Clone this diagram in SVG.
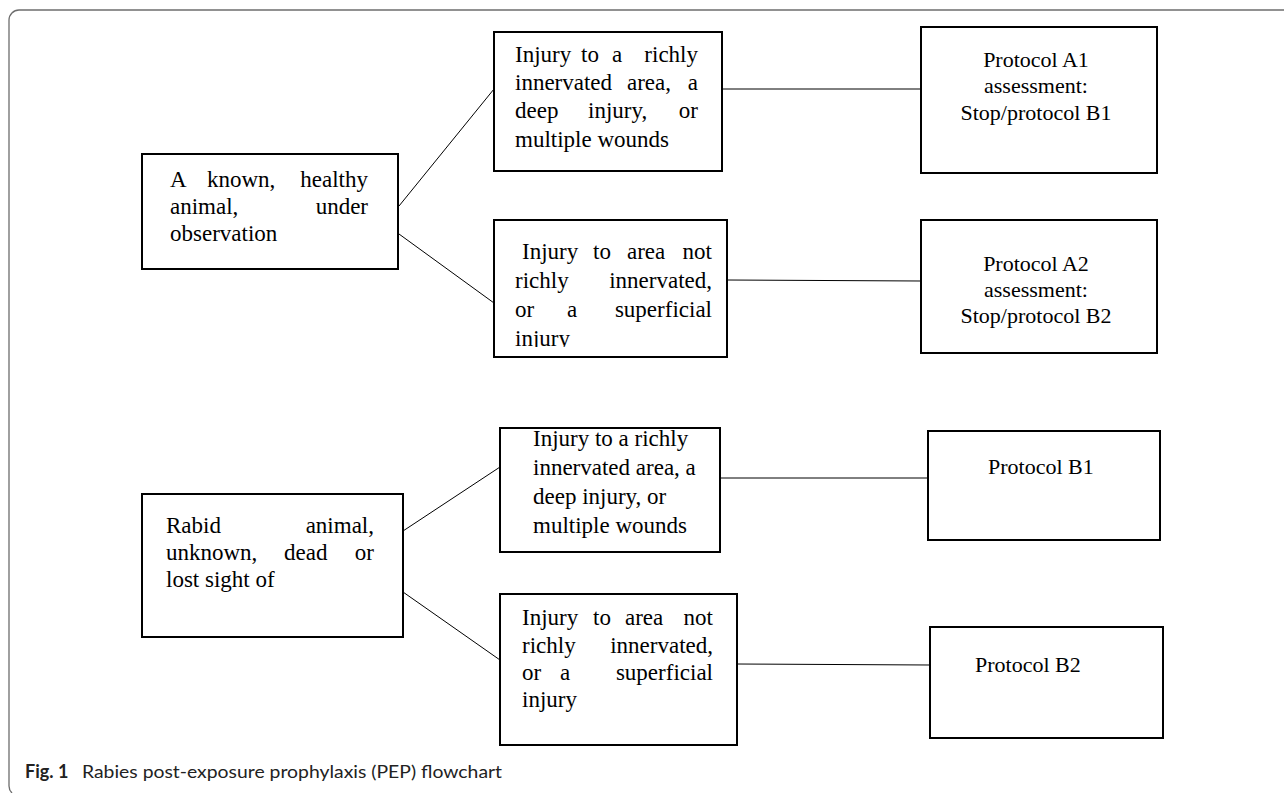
<svg xmlns="http://www.w3.org/2000/svg" width="1284" height="793" viewBox="0 0 1284 793">
<style>
.box{fill:#fff;stroke:#000;stroke-width:2}
.t{font-family:"Liberation Serif","Times New Roman",serif;font-size:23px;fill:#000}
.p{font-family:"Liberation Serif","Times New Roman",serif;font-size:22px;fill:#000}
.e{text-anchor:end}
.m{text-anchor:middle}
.c line{stroke:#000;stroke-width:1}
.cap{font-family:Lato,"Open Sans","Liberation Sans",sans-serif;font-size:18px;fill:#222}
</style>
<defs>
<clipPath id="clip3"><rect x="494" y="220" width="233" height="127"/></clipPath>
</defs>
<rect width="1284" height="793" fill="#fff"/>
<path d="M 9 786 V 20 A 10 10 0 0 1 19 10 H 1284" fill="none" stroke="#6d6d6d" stroke-width="1.3"/>
<path d="M 9 786 Q 9 790 12 793" fill="none" stroke="#6d6d6d" stroke-width="1.3"/>
<g class="c" id="connectors">
<line x1="399" y1="206" x2="494" y2="89"/>
<line x1="399" y1="234" x2="494" y2="303"/>
<line x1="722" y1="89" x2="921" y2="89"/>
<line x1="727" y1="280" x2="921" y2="281"/>
<line x1="403" y1="531" x2="500" y2="467"/>
<line x1="403" y1="592" x2="500" y2="660"/>
<line x1="720" y1="478" x2="928" y2="478"/>
<line x1="737" y1="664" x2="930" y2="665"/>
</g>
<g id="n1">
<rect class="box" x="142" y="154" width="256" height="115"/>
<text class="t" x="170" y="187">A</text><text class="t" x="207" y="187">known,</text><text class="t e" x="368" y="187">healthy</text>
<text class="t" x="170" y="214">animal,</text><text class="t e" x="368" y="214">under</text>
<text class="t" x="170" y="241">observation</text>
</g>
<g id="n2">
<rect class="box" x="494" y="32" width="228" height="139"/>
<text class="t" x="515" y="62">Injury</text><text class="t" x="581" y="62">to</text><text class="t" x="612" y="62">a</text><text class="t e" x="698" y="62">richly</text>
<text class="t" x="515" y="90">innervated</text><text class="t" x="627" y="90">area,</text><text class="t e" x="698" y="90">a</text>
<text class="t" x="515" y="118">deep</text><text class="t" x="588" y="118">injury,</text><text class="t e" x="698" y="118">or</text>
<text class="t" x="515" y="147">multiple wounds</text>
</g>
<g id="n3">
<rect class="box" x="494" y="220" width="233" height="137"/>
<text class="t" x="522" y="259">Injury</text><text class="t" x="593" y="259">to</text><text class="t" x="627" y="259">area</text><text class="t e" x="712" y="259">not</text>
<text class="t" x="515" y="288">richly</text><text class="t e" x="712" y="288">innervated,</text>
<text class="t" x="515" y="317">or</text><text class="t" x="567" y="317">a</text><text class="t e" x="712" y="317">superficial</text>
<text class="t" x="515" y="346" clip-path="url(#clip3)">injury</text>
</g>
<g id="nA1">
<rect class="box" x="921" y="27" width="236" height="146"/>
<text class="p m" x="1036" y="67">Protocol A1</text>
<text class="p m" x="1036" y="93">assessment:</text>
<text class="p m" x="1036" y="120">Stop/protocol B1</text>
</g>
<g id="nA2">
<rect class="box" x="921" y="220" width="236" height="133"/>
<text class="p m" x="1036" y="271">Protocol A2</text>
<text class="p m" x="1036" y="297">assessment:</text>
<text class="p m" x="1036" y="323">Stop/protocol B2</text>
</g>
<g id="n4">
<rect class="box" x="142" y="494" width="261" height="143"/>
<text class="t" x="166" y="533">Rabid</text><text class="t e" x="374" y="533">animal,</text>
<text class="t" x="166" y="560">unknown,</text><text class="t" x="284" y="560">dead</text><text class="t e" x="374" y="560">or</text>
<text class="t" x="166" y="587">lost sight of</text>
</g>
<g id="n5">
<rect class="box" x="500" y="428" width="220" height="124"/>
<text class="t" x="533" y="446">Injury to a richly</text>
<text class="t" x="533" y="475">innervated area, a</text>
<text class="t" x="533" y="504">deep injury, or</text>
<text class="t" x="533" y="533">multiple wounds</text>
</g>
<g id="nB1">
<rect class="box" x="928" y="431" width="232" height="109"/>
<text class="p" x="988" y="474">Protocol B1</text>
</g>
<g id="n6">
<rect class="box" x="500" y="594" width="237" height="151"/>
<text class="t" x="522" y="625">Injury</text><text class="t" x="593" y="625">to</text><text class="t" x="625" y="625">area</text><text class="t e" x="713" y="625">not</text>
<text class="t" x="522" y="653">richly</text><text class="t e" x="713" y="653">innervated,</text>
<text class="t" x="522" y="680">or</text><text class="t" x="560" y="680">a</text><text class="t e" x="713" y="680">superficial</text>
<text class="t" x="522" y="707">injury</text>
</g>
<g id="nB2">
<rect class="box" x="930" y="627" width="233" height="111"/>
<text class="p" x="975" y="672">Protocol B2</text>
</g>
<text class="cap" x="25" y="778" font-weight="bold">Fig. 1</text>
<text class="cap" x="82" y="778" textLength="420" lengthAdjust="spacingAndGlyphs">Rabies post-exposure prophylaxis (PEP) flowchart</text>
</svg>
